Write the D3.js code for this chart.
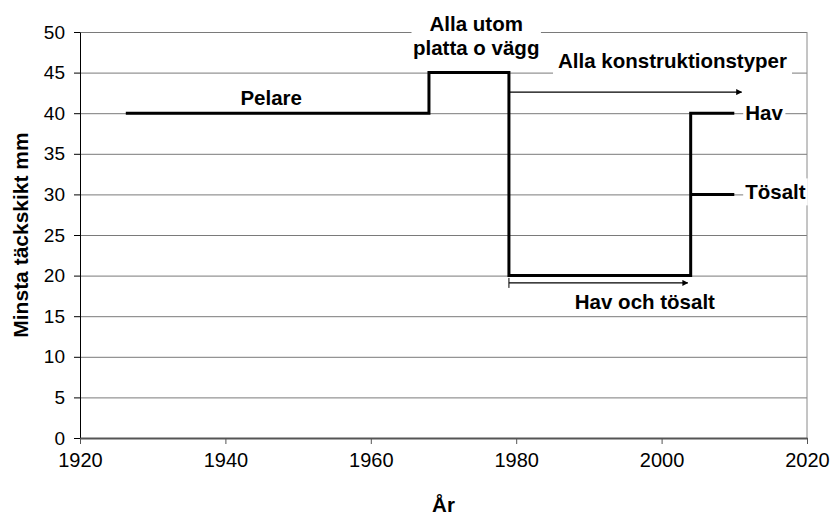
<!DOCTYPE html>
<html>
<head>
<meta charset="utf-8">
<script src="https://cdn.jsdelivr.net/npm/d3@7"></script>
<style>
  body { margin: 0; background: #fff; }
  text { font-family: "Liberation Sans", Arial, Helvetica, sans-serif; }
</style>
</head>
<body>
<div id="chart"></div>
<script>
(function(){

  // step line: minimum cover per period (stepAfter)
  var stepYears  = [1926.3, 1968, 1979, 2004, 2010];
  var stepCover  = [40, 45, 20, 40, 40];

  // de-icing salt branch after 2004
  var saltYears = [2004, 2010];
  var saltCover = [30, 30];

  // arrows: from, to, level
  var arrowFrom  = [1979, 1979];
  var arrowTo    = [2011, 2003.6];
  var arrowLevel = [42.6, 19.1];

  var xTicks = [1920, 1940, 1960, 1980, 2000, 2020];
  var yTicks = [0, 5, 10, 15, 20, 25, 30, 35, 40, 45, 50];

  // annotation texts with anchor in data units
  var noteText  = ["Pelare", "Alla utom", "platta o vägg", "Alla konstruktionstyper", "Hav", "Tösalt", "Hav och tösalt"];
  var noteYear  = [1946.3, 1974.5, 1974.5, 2001.5, 2011.5, 2011.5, 1997.7];
  var noteValue = [40, 50, 50, 45, 40, 30, 20];

  var width = 832, height = 518;
  var margin = {top: 32, right: 25, bottom: 80, left: 80};
  var w = width - margin.left - margin.right,
      h = height - margin.top - margin.bottom;

  var svg = d3.select("#chart").append("svg")
      .attr("width", width)
      .attr("height", height);

  svg.append("defs").append("marker")
      .attr("id", "head")
      .attr("viewBox", "0 0 10 10")
      .attr("refX", 9).attr("refY", 5)
      .attr("markerWidth", 6).attr("markerHeight", 6)
      .attr("markerUnits", "userSpaceOnUse")
      .attr("orient", "auto")
    .append("path")
      .attr("d", "M0,0L10,5L0,10z")
      .attr("fill", "#000");

  var g = svg.append("g").attr("transform", "translate(" + margin.left + "," + margin.top + ")");

  var x = d3.scaleLinear().domain([1920, 2020]).range([0, w]);
  var y = d3.scaleLinear().domain([0, 50]).range([h, 0]);

  // grid
  g.append("g")
      .call(d3.axisLeft(y).tickValues(yTicks).tickSize(-w).tickFormat(""))
      .call(function(a){
        a.select(".domain").remove();
        a.selectAll("line").attr("stroke", "#7a7a7a").attr("stroke-width", 1);
      });

  g.append("line")
      .attr("x1", w).attr("x2", w).attr("y1", 0).attr("y2", h)
      .attr("stroke", "#8a8a8a");

  // axes
  var yAxis = g.append("g")
      .call(d3.axisLeft(y).tickValues(yTicks).tickSize(6).tickPadding(9).tickSizeOuter(0));
  yAxis.select(".domain").attr("stroke", "#000");
  yAxis.selectAll("text").attr("font-size", 19).attr("fill", "#000")
      .style("font-family", "'Liberation Sans', Arial, sans-serif");

  var xAxis = g.append("g")
      .attr("transform", "translate(0," + h + ")")
      .call(d3.axisBottom(x).tickValues(xTicks).tickFormat(d3.format("d")).tickSize(6).tickPadding(9).tickSizeOuter(0));
  xAxis.select(".domain").attr("stroke", "#555").attr("stroke-width", 2);
  xAxis.selectAll("line").attr("stroke", "#555");
  xAxis.selectAll("text").attr("font-size", 20).attr("fill", "#000")
      .style("font-family", "'Liberation Sans', Arial, sans-serif");

  // axis titles
  svg.append("text")
      .attr("x", margin.left + w / 2).attr("y", 512)
      .attr("text-anchor", "middle")
      .attr("font-size", 20.5).attr("font-weight", "bold")
      .text("År");

  svg.append("text")
      .attr("transform", "translate(28," + (margin.top + h / 2) + ") rotate(-90)")
      .attr("text-anchor", "middle")
      .attr("font-size", 21).attr("font-weight", "bold")
      .text("Minsta täckskikt mm");

  // step line
  var line = d3.line()
      .x(function(d){ return x(d[0]); })
      .y(function(d){ return y(d[1]); })
      .curve(d3.curveStepAfter);

  var stepData = stepYears.map(function(d, i){ return [d, stepCover[i]]; });
  var saltData = saltYears.map(function(d, i){ return [d, saltCover[i]]; });

  g.append("path").datum(stepData)
      .attr("d", line)
      .attr("fill", "none").attr("stroke", "#000").attr("stroke-width", 3)
      .attr("stroke-linejoin", "miter");

  g.append("path").datum(saltData)
      .attr("d", line)
      .attr("fill", "none").attr("stroke", "#000").attr("stroke-width", 3);

  // arrows
  arrowFrom.forEach(function(d, i){
    g.append("line")
        .attr("x1", x(d)).attr("x2", x(arrowTo[i]))
        .attr("y1", y(arrowLevel[i])).attr("y2", y(arrowLevel[i]))
        .attr("stroke", "#000").attr("stroke-width", 1.3)
        .attr("marker-end", "url(#head)");
  });
  // small start tick of lower arrow
  g.append("line")
      .attr("x1", x(arrowFrom[1])).attr("x2", x(arrowFrom[1]))
      .attr("y1", y(arrowLevel[1]) - 5).attr("y2", y(arrowLevel[1]) + 5)
      .attr("stroke", "#000").attr("stroke-width", 1);

  // annotation labels (offsets per label, with white box behind)
  var noteDy     = [-8, -1, 23, -5, 7, 5, 33];
  var noteAnchor = ["middle", "middle", "middle", "middle", "start", "start", "middle"];
  var notePad    = [[0,0], [18,3], [0,0], [5,3], [2,1], [2,2], [0,0]];

  noteText.forEach(function(t, i){
    var ng = g.append("g");
    var txt = ng.append("text")
        .attr("x", x(noteYear[i])).attr("y", y(noteValue[i]) + noteDy[i])
        .attr("text-anchor", noteAnchor[i])
        .attr("font-size", 20.5).attr("font-weight", "bold")
        .attr("fill", "#000")
        .text(t);
    var p = notePad[i];
    if (p[0] > 0) {
      var b = txt.node().getBBox();
      ng.insert("rect", "text")
          .attr("x", b.x - p[0]).attr("y", b.y - p[1])
          .attr("width", b.width + 2 * p[0]).attr("height", b.height + 2 * p[1])
          .attr("fill", "#fff");
    }
  });

})();
</script>
</body>
</html>
